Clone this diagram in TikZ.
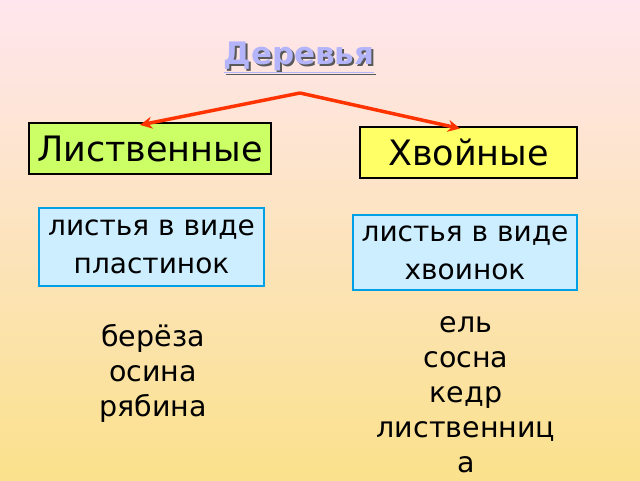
\documentclass[tikz,border=0pt]{standalone}
\usepackage{fontspec}
\setmainfont{DejaVu Sans}
\usetikzlibrary{arrows.meta}
\begin{document}
\begin{tikzpicture}[x=1pt,y=-1pt,
  kind/.style={draw=black,line width=2pt,inner sep=0pt,font=\fontsize{35}{40}\selectfont},
  leaf/.style={draw={rgb,255:red,0;green,160;blue,230},line width=2pt,fill={rgb,255:red,204;green,238;blue,255},inner sep=0pt,align=center,font=\fontsize{28}{38}\selectfont},
  arr/.style={draw={rgb,255:red,255;green,51;blue,0},line width=3.5pt,-{Stealth[length=12pt,width=12pt]}},
  lst/.style={align=center,font=\fontsize{28.5}{35}\selectfont}]
\shade[top color={rgb,255:red,255;green,230;blue,238},bottom color={rgb,255:red,250;green,225;blue,140}] (0,0) rectangle (640,480);
\useasboundingbox (0,0) rectangle (640,480);
\node (t) at (300,58) {\fontsize{31}{36}\selectfont\bfseries
  \tikz[baseline=(x.base)]{\node[inner sep=0,text=gray!70!black] at (2pt,-2pt){\underline{Деревья}};\node[inner sep=0,text={rgb,255:red,180;green,180;blue,250}] (x) at (0,0){\underline{Деревья}};}};
\coordinate (top) at (300,93);
\node[kind,fill={rgb,255:red,204;green,255;blue,102},minimum width=242,minimum height=51] (l) at (150,148.5) {Лиственные};
\node[kind,fill={rgb,255:red,255;green,255;blue,102},minimum width=217,minimum height=51] (h) at (468.5,152.5) {Хвойные};
\draw[arr] (top) -- (140,125);
\draw[arr] (top) -- (460,128.5);
\node[leaf,minimum width=225,minimum height=78] (lb) at (151.5,247) {листья в виде\\пластинок};
\node[leaf,minimum width=224,minimum height=75] (hb) at (465,252.5) {листья в виде\\хвоинок};
\node[lst] (ll) at (153,373) {берёза\\осина\\рябина};
\node[lst] (hl) at (466,395) {ель\\сосна\\кедр\\лиственниц\\а};
\end{tikzpicture}
\end{document}
